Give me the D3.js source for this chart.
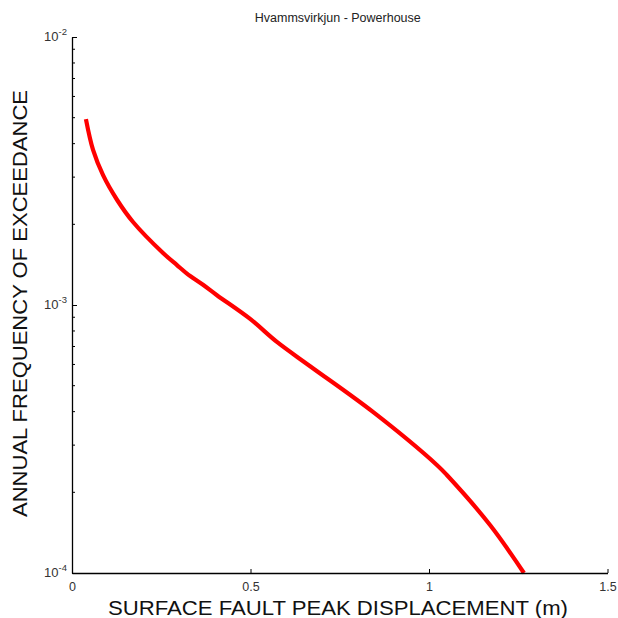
<!DOCTYPE html>
<html><head><meta charset="utf-8">
<script src="https://cdn.jsdelivr.net/npm/d3@7"></script>
<style>body{margin:0;background:#fff}svg{display:block}</style>
</head><body>
<svg id="c" width="618" height="618"></svg>
<script>
const title = "Hvammsvirkjun - Powerhouse";
const xLabel = "SURFACE FAULT PEAK DISPLACEMENT (m)";
const yLabel = "ANNUAL FREQUENCY OF EXCEEDANCE";
const xTicks = [0, 0.5, 1, 1.5];
const xTickLabels = ["0", "0.5", "1", "1.5"];
const yMajor = [1e-4, 1e-3, 1e-2];
const yMajorExp = ["-4", "-3", "-2"];
const displacement = [0.039, 0.059, 0.087, 0.126, 0.171, 0.255, 0.294, 0.322, 0.367, 0.406, 0.499, 0.574, 0.667, 0.843, 1.022, 1.050, 1.171, 1.266];
const frequency = [4.94e-3, 3.79e-3, 3.05e-3, 2.47e-3, 2.04e-3, 1.563e-3, 1.409e-3, 1.31e-3, 1.19e-3, 1.088e-3, 8.87e-4, 7.28e-4, 5.91e-4, 3.99e-4, 2.53e-4, 2.32e-4, 1.51e-4, 1.0e-4];

const svg = d3.select("#c");
const L = 72, R = 607.5, T = 37, B = 573;
const x = d3.scaleLinear().domain([0, 1.5]).range([L, R]);
const y = d3.scaleLog().domain([1e-4, 1e-2]).range([B, T]);
const font = "Liberation Sans, Arial, sans-serif";

// curve
const data = displacement.map((d, i) => [d, frequency[i]]);
svg.append("path").datum(data)
  .attr("fill", "none").attr("stroke", "#ff0000").attr("stroke-width", 4.2)
  .attr("stroke-linejoin", "round")
  .attr("d", d3.line().x(d => x(d[0])).y(d => y(d[1])).curve(d3.curveCatmullRom.alpha(0.5)));

// x axis
const xa = svg.append("g").attr("transform", `translate(0,${B})`)
  .call(d3.axisBottom(x).tickValues(xTicks).tickSize(-4).tickSizeOuter(0)
    .tickFormat((d, i) => xTickLabels[i]));
xa.select(".domain").attr("stroke", "#000").attr("stroke-width", 1.3);
xa.selectAll(".tick line").attr("stroke", "#000");
xa.selectAll(".tick text").attr("font-family", font).attr("font-size", 12.5)
  .attr("fill", "#333").attr("y", 9).attr("dy", "0.71em");

// y axis with minor ticks
const minor = [];
for (let e = -4; e < -2; e++) for (let m = 2; m <= 9; m++) minor.push(m * Math.pow(10, e));
const ya = svg.append("g").attr("transform", `translate(${L},0)`)
  .call(d3.axisLeft(y).tickValues(yMajor).tickSize(-5).tickSizeOuter(0).tickFormat(() => ""));
ya.select(".domain").attr("stroke", "#000").attr("stroke-width", 1.3);
ya.selectAll(".tick line").attr("stroke", "#000");
ya.selectAll(".minor").data(minor).enter().append("line").attr("class", "minor")
  .attr("x1", 0).attr("x2", 3).attr("y1", d => y(d)).attr("y2", d => y(d))
  .attr("stroke", "#000");
ya.selectAll(".ylab").data(yMajor).enter().append("text").attr("class", "ylab")
  .attr("x", -5).attr("y", d => y(d) + 4).attr("text-anchor", "end")
  .attr("font-family", font).attr("font-size", 13).attr("fill", "#333")
  .each(function(d, i) {
    const t = d3.select(this);
    t.append("tspan").text("10");
    t.append("tspan").attr("dy", -6).attr("font-size", 9.5).text(yMajorExp[i]);
  });

// labels
svg.append("text").attr("x", (L + R) / 2 - 2).attr("y", 22).attr("text-anchor", "middle")
  .attr("font-family", font).attr("font-size", 12.5).attr("fill", "#222").text(title);
svg.append("text").attr("x", 108).attr("y", 615)
  .attr("textLength", 460).attr("lengthAdjust", "spacingAndGlyphs")
  .attr("font-family", font).attr("font-size", 20.5).attr("fill", "#111").text(xLabel);
svg.append("text").attr("transform", `translate(27,517) rotate(-90)`)
  .attr("textLength", 427).attr("lengthAdjust", "spacingAndGlyphs")
  .attr("font-family", font).attr("font-size", 19.5)
  .attr("fill", "#111").text(yLabel);
</script>
</body></html>
